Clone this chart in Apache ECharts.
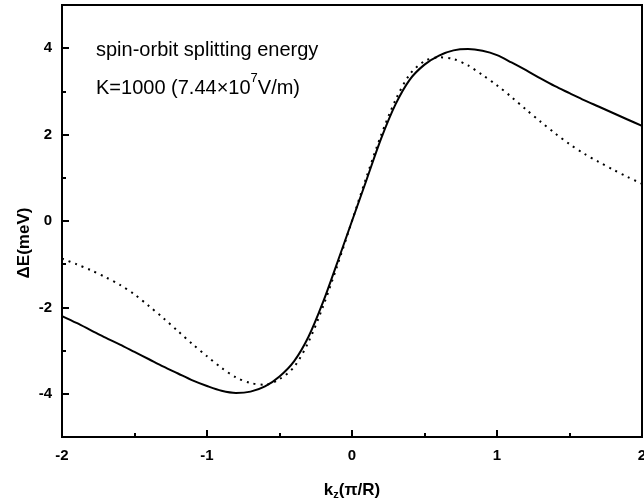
<html>
<head>
<meta charset="utf-8">
<script src="https://cdn.jsdelivr.net/npm/echarts@6/dist/echarts.min.js"></script>
<style>
  html, body { width: 100%; height: 100%; margin: 0; background: #fff; }
  #main { width: 644px; height: 501px; }
</style>
</head>
<body>
<div id="main"></div>
<script>
// k_z values (pi/R) at which the curves were read
var kz = [-2.0, -1.9, -1.8, -1.7, -1.6, -1.5, -1.4, -1.3, -1.2, -1.1, -1.0, -0.9, -0.8, -0.7, -0.6, -0.5, -0.4, -0.3, -0.2, -0.1,
          0, 0.1, 0.2, 0.3, 0.4, 0.5, 0.6, 0.7, 0.8, 0.9, 1.0, 1.1, 1.2, 1.3, 1.4, 1.5, 1.6, 1.7, 1.8, 1.9, 2.0];
// solid curve (meV)
var solidE = [-2.20, -2.36, -2.53, -2.70, -2.86, -3.03, -3.20, -3.37, -3.53, -3.69, -3.82, -3.93, -3.98, -3.95, -3.83, -3.60, -3.25, -2.68, -1.88, -0.95,
              0, 0.95, 1.90, 2.70, 3.28, 3.62, 3.83, 3.95, 3.98, 3.94, 3.84, 3.67, 3.49, 3.30, 3.12, 2.96, 2.80, 2.65, 2.50, 2.35, 2.20];
// dotted curve (meV)
var dottedE = [-0.87, -1.00, -1.14, -1.30, -1.48, -1.70, -1.97, -2.25, -2.55, -2.85, -3.13, -3.40, -3.62, -3.75, -3.79, -3.66, -3.38, -2.80, -1.98, -1.02,
               0, 1.02, 1.98, 2.80, 3.40, 3.70, 3.79, 3.75, 3.60, 3.38, 3.14, 2.87, 2.58, 2.30, 2.03, 1.78, 1.56, 1.37, 1.19, 1.02, 0.86];
var yMajor = [-4, -2, 0, 2, 4];
var yMinor = [-5, -3, -1, 1, 3, 5];

function pairs(xs, ys) {
    var out = [];
    for (var i = 0; i < xs.length; i++) out.push([xs[i], ys[i]]);
    return out;
}

var font = '"Liberation Sans", Arial, sans-serif';
var chart = echarts.init(document.getElementById('main'));
var option = {
    animation: false,
    grid: { left: 62, right: 2, top: 5, bottom: 64, outerBoundsMode: 'none', containLabel: false,
            show: true, borderColor: '#000', borderWidth: 2, backgroundColor: 'transparent' },
    xAxis: {
        type: 'value', min: -2, max: 2, interval: 1,
        name: 'k{sub|z}(π/R)', nameLocation: 'middle', nameGap: 43,
        nameTextStyle: {
            color: '#000', fontFamily: font, fontWeight: 'bold', fontSize: 17,
            rich: { sub: { fontFamily: font, fontWeight: 'bold', fontSize: 11, padding: [9, 0, 0, 0], color: '#000' } }
        },
        axisLine: { onZero: false, lineStyle: { color: '#000', width: 2 } },
        axisTick: { inside: true, length: 7, lineStyle: { color: '#000', width: 2 } },
        minorTick: { show: true, splitNumber: 2, length: 4, lineStyle: { color: '#000', width: 2 } },
        axisLabel: { color: '#000', fontFamily: font, fontWeight: 'bold', fontSize: 15, margin: 11 },
        splitLine: { show: false }
    },
    yAxis: [{
        type: 'value', min: -5, max: 5,
        axisLine: { onZero: false, lineStyle: { color: '#000', width: 2 } },
        axisTick: { inside: true, length: 7, customValues: yMajor, lineStyle: { color: '#000', width: 2 } },
        axisLabel: { color: '#000', fontFamily: font, fontWeight: 'bold', fontSize: 15, margin: 10, customValues: yMajor },
        splitLine: { show: false }
    }, {
        type: 'value', min: -5, max: 5, position: 'left',
        axisLine: { show: false, onZero: false },
        axisTick: { inside: true, length: 4, customValues: yMinor, lineStyle: { color: '#000', width: 2 } },
        axisLabel: { show: false },
        splitLine: { show: false }
    }],
    graphic: [
        { type: 'text', left: 96, top: 40, style: { text: 'spin-orbit splitting energy', font: '20px ' + font, fill: '#000' } },
        { type: 'text', left: 96, top: 72, style: {
            text: '{n|K=1000 (7.44×10}{sup|7}{n|V/m)}', fill: '#000',
            rich: {
                n: { fontSize: 20, fontFamily: font, lineHeight: 26, verticalAlign: 'bottom', fill: '#000' },
                sup: { fontSize: 13, fontFamily: font, lineHeight: 26, verticalAlign: 'top', fill: '#000' }
            }
        } },
        { type: 'text', x: 24, y: 243, rotation: Math.PI / 2, style: {
            text: 'ΔE(meV)', font: 'bold 17px ' + font, fill: '#000', align: 'center', verticalAlign: 'middle'
        } }
    ],
    series: [{
        type: 'line', data: pairs(kz, solidE), smooth: 0.3, showSymbol: false,
        lineStyle: { color: '#000', width: 2 }
    }, {
        type: 'line', data: pairs(kz, dottedE), smooth: 0.3, showSymbol: false,
        lineStyle: { color: '#000', width: 2, type: [2, 5] }
    }]
};
chart.setOption(option);
window.onresize = chart.resize;
</script>
</body>
</html>
